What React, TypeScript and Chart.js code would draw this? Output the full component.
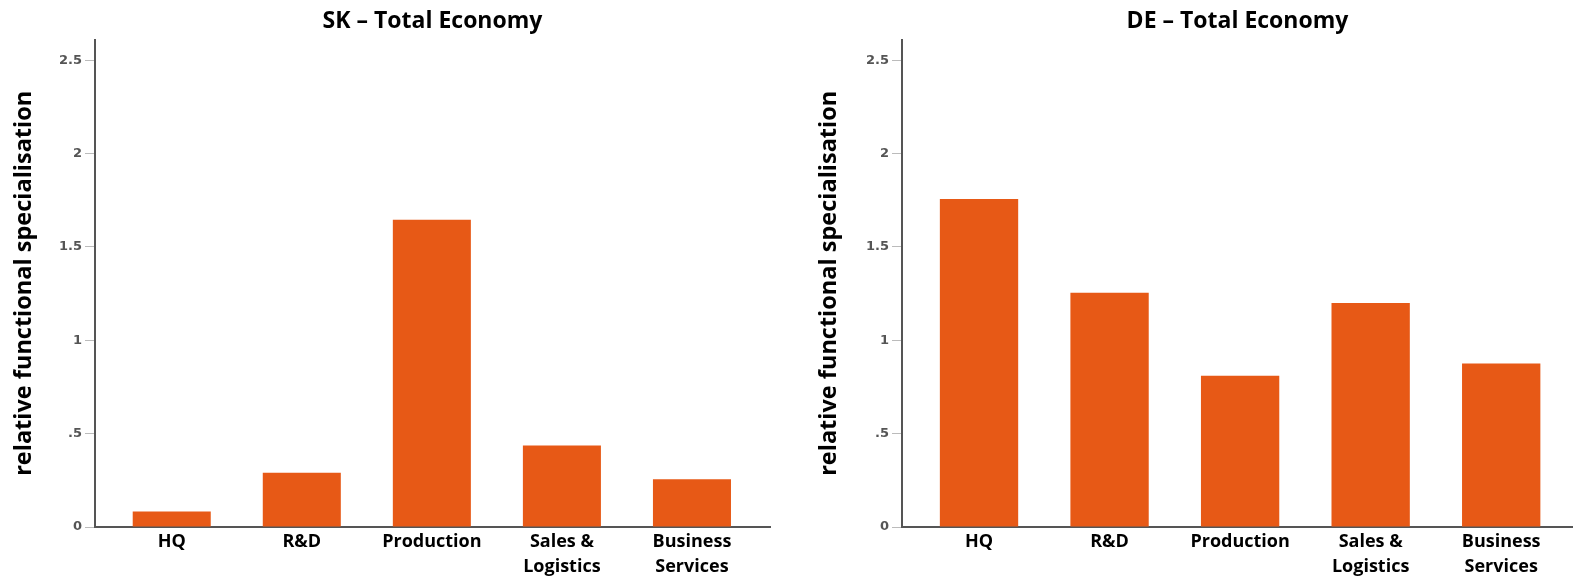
import React, { useEffect, useRef } from "react";
import { Chart, registerables } from "chart.js";

Chart.register(...registerables);

const categories = ["HQ", "R&D", "Production", "Sales &\nLogistics", "Business\nServices"];
const skValues = [0.083, 0.29, 1.645, 0.437, 0.256];
const deValues = [1.757, 1.255, 0.81, 1.2, 0.875];
const yTicks = [0, 0.5, 1, 1.5, 2, 2.5];
const yTickLabels = ["0", ".5", "1", "1.5", "2", "2.5"];

const BAR_COLOR = "#E75916";

function makeConfig(title: string, values: number[], yWidth: number, titlePad: number, xMin: number, xMax: number, padRight: number): any {
  return {
    type: "bar",
    data: {
      datasets: [
        {
          data: values.map((v, i) => ({ x: i, y: v })),
          backgroundColor: BAR_COLOR,
          borderWidth: 0,
          categoryPercentage: 1,
          barPercentage: 0.6,
        },
      ],
    },
    options: {
      responsive: false,
      animation: false,
      layout: { padding: { left: 0, right: padRight, top: 0, bottom: 0 } },
      plugins: {
        legend: { display: false },
        tooltip: { enabled: false },
        title: {
          display: true,
          text: title,
          fullSize: false,
          color: "#000",
          font: { family: "'Open Sans'", size: 23, weight: "bold", lineHeight: 1.2 },
          padding: { top: 8, bottom: 4 },
        },
      },
      scales: {
        x: {
          type: "linear",
          offset: false,
          min: xMin,
          max: xMax,
          afterBuildTicks: (scale: any) => {
            scale.ticks = categories.map((_, i) => ({ value: i }));
          },
          afterFit: (scale: any) => {
            scale.height = 51;
          },
          grid: { display: false, drawTicks: false },
          border: { display: true, color: "#555", width: 2 },
          ticks: {
            autoSkip: false,
            maxRotation: 0,
            padding: 3,
            color: "#000",
            font: { family: "'Open Sans'", size: 18, weight: "bold", lineHeight: 1.35 },
            callback: (v: any) => {
              const c = categories[Math.round(Number(v))];
              return c ? c.split("\n") : "";
            },
          },
        },
        y: {
          type: "linear",
          min: 0,
          max: 2.61,
          afterBuildTicks: (scale: any) => {
            scale.ticks = yTicks.map((v) => ({ value: v }));
          },
          afterFit: (scale: any) => {
            scale.width = yWidth;
          },
          grid: { drawOnChartArea: false, drawTicks: true, tickLength: 10, color: "#bbb" },
          border: { display: true, color: "#555", width: 2 },
          ticks: {
            padding: 3,
            color: "#555",
            font: { family: "'DejaVu Sans'", size: 13, weight: "bold" },
            callback: (v: any) => {
              const idx = yTicks.indexOf(Number(v));
              return idx >= 0 ? yTickLabels[idx] : "";
            },
          },
          title: {
            display: true,
            text: "relative functional specialisation",
            color: "#000",
            font: { family: "'Open Sans'", size: 23.5, weight: "bold", lineHeight: 1.2 },
            padding: { top: titlePad, bottom: 0 },
          },
        },
      },
    },
  };
}

export default function App() {
  const leftRef = useRef<HTMLCanvasElement>(null);
  const rightRef = useRef<HTMLCanvasElement>(null);

  useEffect(() => {
    const c1 = new Chart(leftRef.current as HTMLCanvasElement, makeConfig("SK – Total Economy", skValues, 95, 10, -0.59, 4.6, 16));
    const c2 = new Chart(rightRef.current as HTMLCanvasElement, makeConfig("DE – Total Economy", deValues, 115, 28, -0.59, 4.55, 0));
    return () => {
      c1.destroy();
      c2.destroy();
    };
  }, []);

  return (
    <div style={{ position: "fixed", left: 0, top: 0, width: 1573, height: 578, overflow: "hidden", background: "#fff" }}>
      <canvas ref={leftRef} width={786} height={578} style={{ position: "absolute", left: 0, top: 0, width: 786, height: 578 }} />
      <canvas ref={rightRef} width={786} height={578} style={{ position: "absolute", left: 787, top: 0, width: 786, height: 578 }} />
    </div>
  );
}
